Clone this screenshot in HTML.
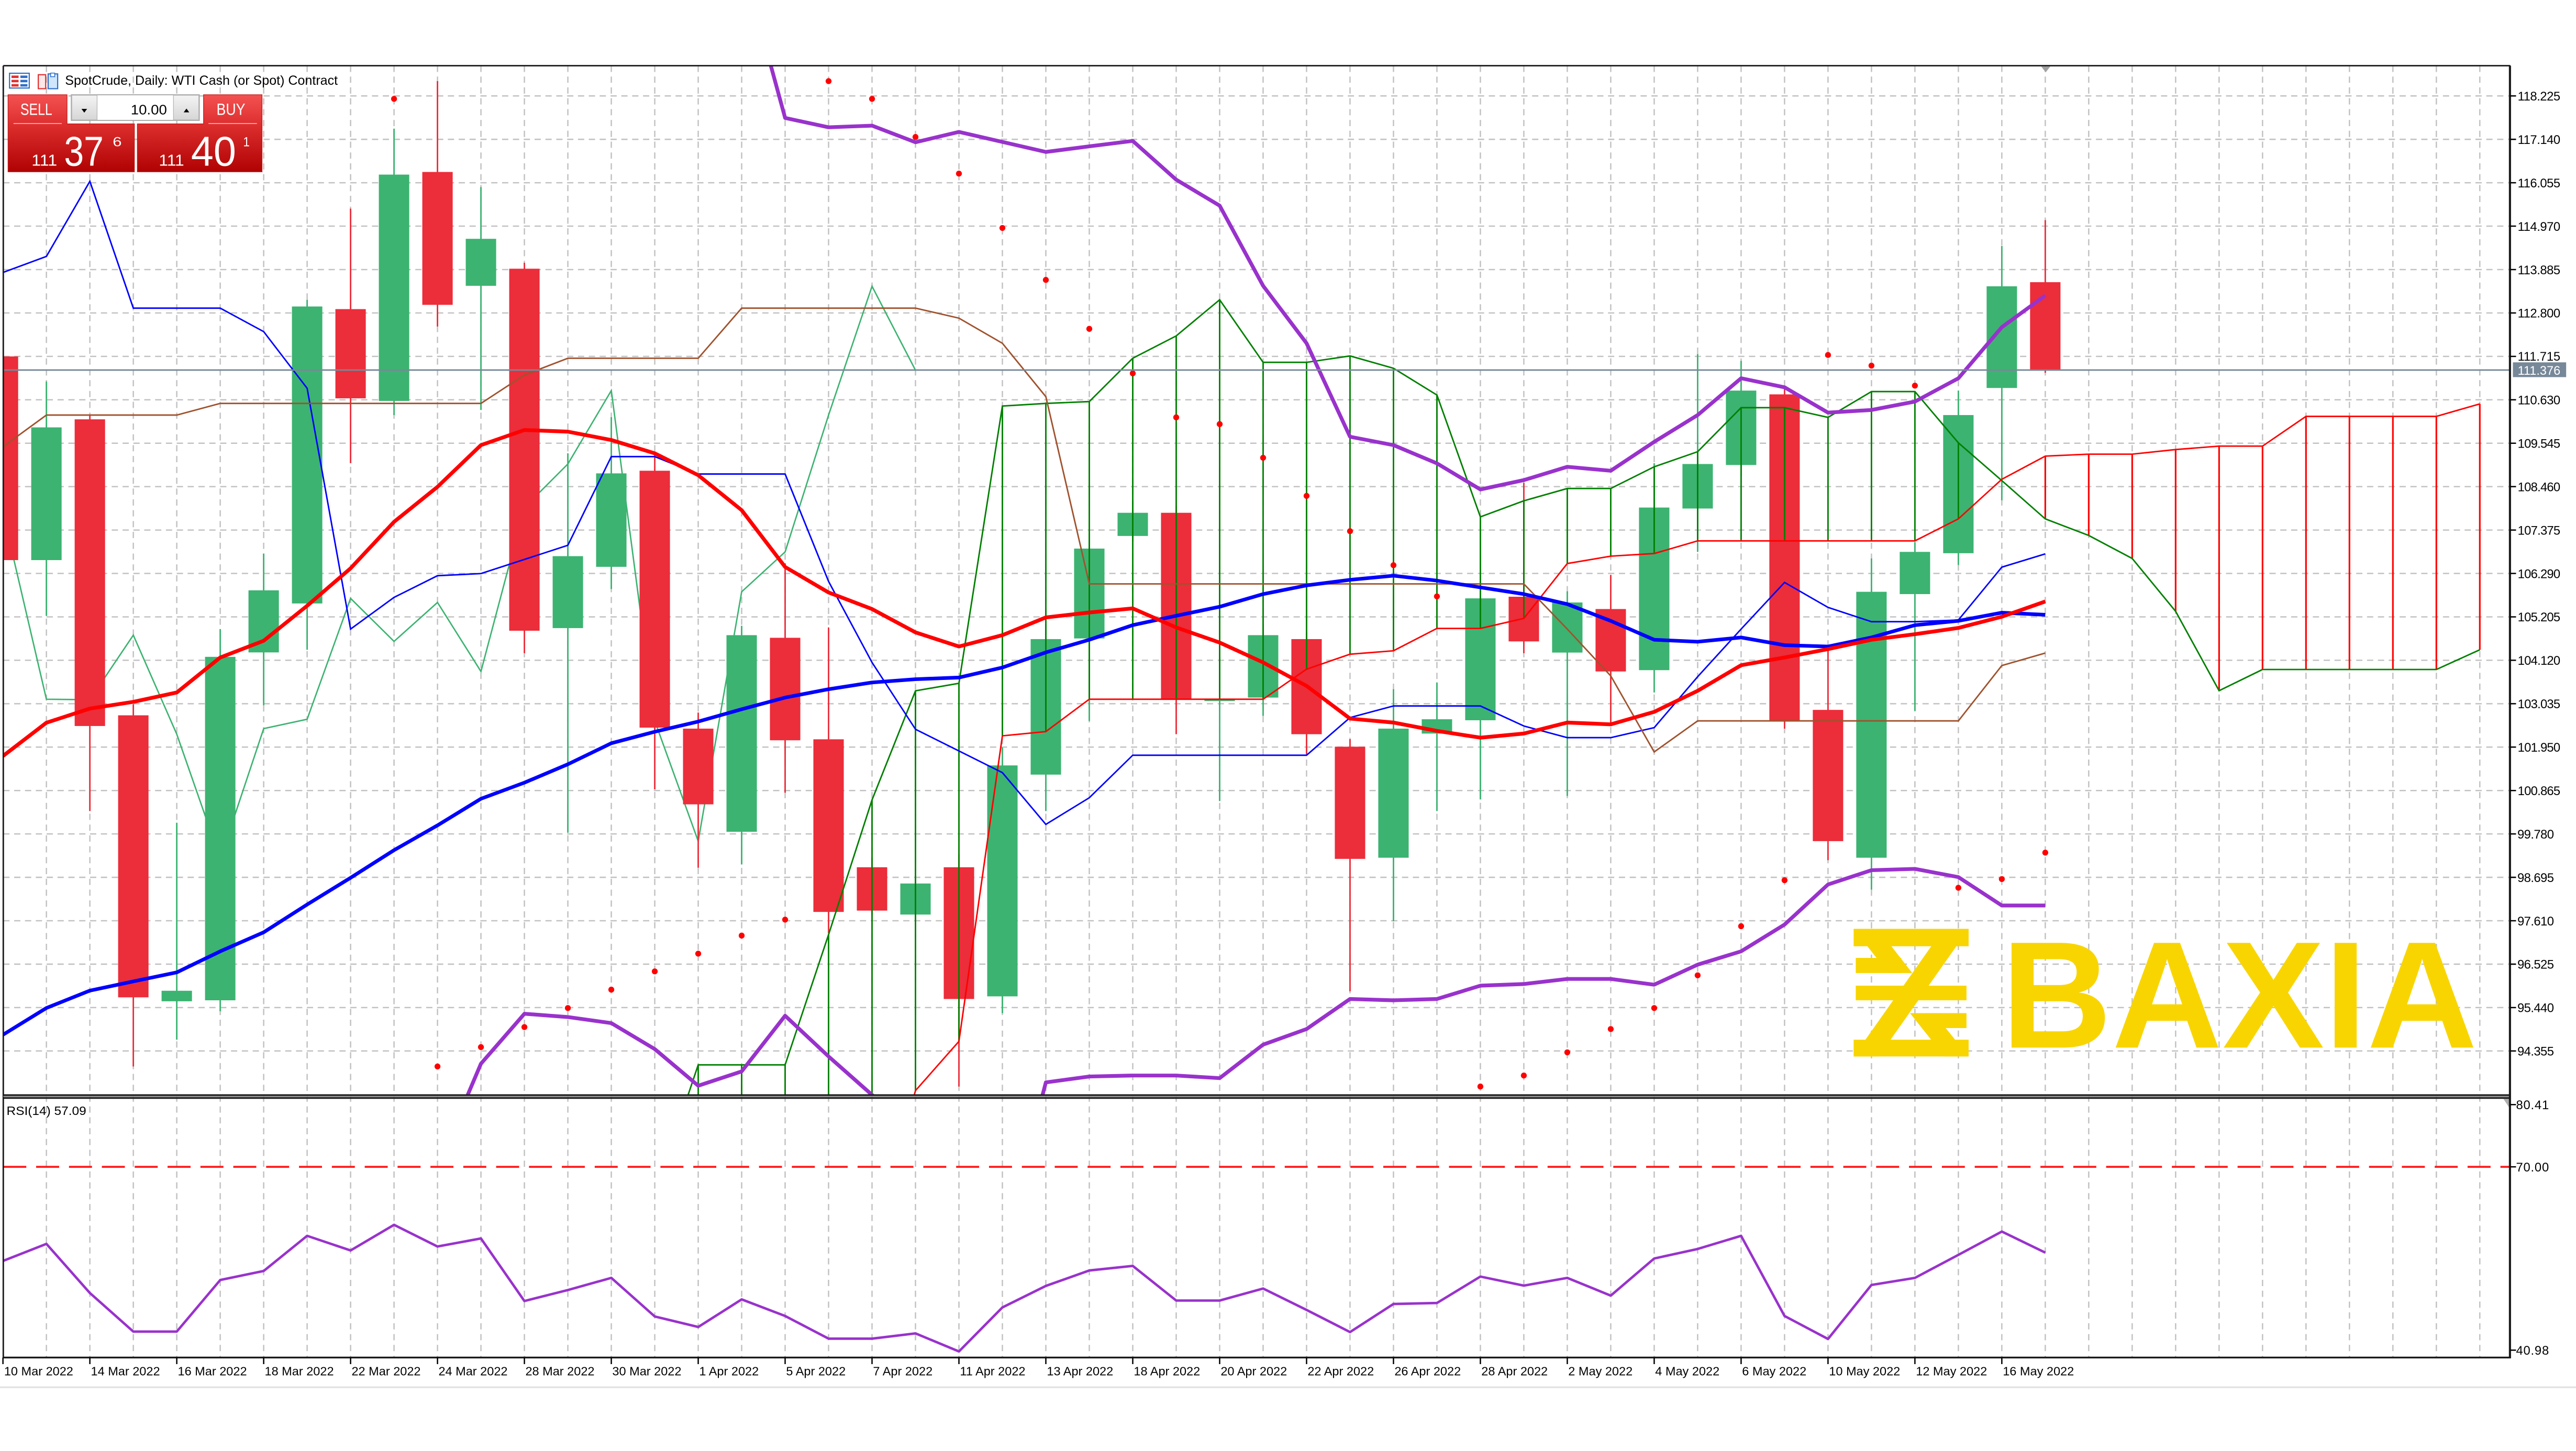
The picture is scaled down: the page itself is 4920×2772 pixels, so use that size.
<!DOCTYPE html>
<html>
<head>
<meta charset="utf-8">
<style>
html,body{margin:0;padding:0;background:#fff;overflow:hidden;}
svg{display:block;}
text{font-family:"Liberation Sans",Arial,sans-serif;}
</style>
</head>
<body>
<svg xmlns="http://www.w3.org/2000/svg" width="4920" height="2772" viewBox="0 0 1568 883.4" preserveAspectRatio="none">
<defs>
<clipPath id="cm"><rect x="2" y="40" width="1525.8" height="626.6"/></clipPath>
<clipPath id="cr"><rect x="2" y="668.8" width="1525.8" height="157.7"/></clipPath>
<linearGradient id="rg" x1="0" y1="0" x2="0" y2="1">
<stop offset="0" stop-color="#f45252"/><stop offset="0.38" stop-color="#de2f2f"/><stop offset="1" stop-color="#b00202"/>
</linearGradient>
<linearGradient id="bg" x1="0" y1="0" x2="0" y2="1">
<stop offset="0" stop-color="#f4f4f4"/><stop offset="1" stop-color="#d6d6d6"/>
</linearGradient>
</defs>
<rect x="0" y="0" width="1568" height="883.4" fill="#fff"/>

<!-- grid -->
<path d="M28.25 40V826.5M54.7 40V826.5M81.15 40V826.5M107.6 40V826.5M134.05 40V826.5M160.5 40V826.5M186.95 40V826.5M213.4 40V826.5M239.85 40V826.5M266.3 40V826.5M292.75 40V826.5M319.2 40V826.5M345.65 40V826.5M372.1 40V826.5M398.55 40V826.5M425 40V826.5M451.45 40V826.5M477.9 40V826.5M504.35 40V826.5M530.8 40V826.5M557.25 40V826.5M583.7 40V826.5M610.15 40V826.5M636.6 40V826.5M663.05 40V826.5M689.5 40V826.5M715.95 40V826.5M742.4 40V826.5M768.85 40V826.5M795.3 40V826.5M821.75 40V826.5M848.2 40V826.5M874.65 40V826.5M901.1 40V826.5M927.55 40V826.5M954 40V826.5M980.45 40V826.5M1006.9 40V826.5M1033.35 40V826.5M1059.8 40V826.5M1086.25 40V826.5M1112.7 40V826.5M1139.15 40V826.5M1165.6 40V826.5M1192.05 40V826.5M1218.5 40V826.5M1244.95 40V826.5M1271.4 40V826.5M1297.85 40V826.5M1324.3 40V826.5M1350.75 40V826.5M1377.2 40V826.5M1403.65 40V826.5M1430.1 40V826.5M1456.55 40V826.5M1483 40V826.5M1509.45 40V826.5" stroke="#c2c2c2" stroke-width="0.8" stroke-dasharray="3.8 2.8" fill="none"/>
<path d="M2 58.4H1527.5M2 84.83H1527.5M2 111.26H1527.5M2 137.69H1527.5M2 164.12H1527.5M2 190.55H1527.5M2 216.98H1527.5M2 243.41H1527.5M2 269.84H1527.5M2 296.27H1527.5M2 322.7H1527.5M2 349.13H1527.5M2 375.56H1527.5M2 401.99H1527.5M2 428.42H1527.5M2 454.85H1527.5M2 481.28H1527.5M2 507.71H1527.5M2 534.14H1527.5M2 560.57H1527.5M2 587H1527.5M2 613.43H1527.5M2 639.86H1527.5" stroke="#c2c2c2" stroke-width="0.8" stroke-dasharray="3.8 2.8" fill="none"/>

<g clip-path="url(#cm)">
<!-- logo -->
<g fill="#f8d500">
<rect x="1128.3" y="565.5" width="70" height="10.6"/>
<polygon points="1128.3,565.5 1143,565.5 1164,592.4 1149.5,592.4"/>
<rect x="1129.6" y="583.2" width="27.7" height="9.2"/>
<polygon points="1183,565.5 1198.3,565.5 1143.6,643.2 1128.3,643.2"/>
<rect x="1129.6" y="600.1" width="67.4" height="8.9"/>
<rect x="1171.9" y="616.8" width="25.1" height="9.1"/>
<polygon points="1162.6,616.8 1177,616.8 1198.3,643.2 1183.6,643.2"/>
<rect x="1128.3" y="633" width="70" height="10.2"/>
<text x="1218.2" y="637.8" font-size="92.7" font-weight="bold" textLength="289.8" lengthAdjust="spacingAndGlyphs">BAXIA</text>
</g>

<!-- chikou -->
<polyline fill="none" stroke="#3cb371" stroke-width="0.85" points="1.8,312.2 28.25,425.7 54.7,426 81.15,386.7 107.6,447 134.05,522.9 160.5,443.6 186.95,437.9 213.4,364.3 239.85,390.5 266.3,366.8 292.75,408.8 319.2,309 345.65,282.5 372.1,237.8 398.55,438.9 425,512.1 451.45,360.3 477.9,336 504.35,252.7 530.8,174.3 557.25,225.4"/>

<!-- candles -->
<path fill="none" stroke="#3cb371" stroke-width="0.9" d="M28.25 232.3V375M107.6 500.9V633M134.05 383V615.7M160.5 337V429.4M186.95 182.5V395.6M239.85 78.3V252.7M292.75 113.9V249.6M345.65 276V507M372.1 254V358.6M451.45 381V526.3M557.25 533V560M610.15 455V616.8M636.6 380V493.8M663.05 325V438.9M689.5 305V330M742.4 400V487.7M768.85 380V435.9M848.2 419.6V560.9M874.65 415.5V493.8M901.1 355V486.7M954 360V484.6M1006.9 282V421.6M1033.35 215.5V336M1059.8 219.7V290M1139.15 340V541.6M1165.6 330V432.8M1192.05 237.8V344M1218.5 149.7V304.6"/>
<path fill="none" stroke="#ec2d3a" stroke-width="0.9" d="M1.8 212V345M54.7 252.7V493.8M81.15 428.7V649.3M213.4 127V282M266.3 49.4V198.8M319.2 160V397.7M398.55 275V480.6M425 433.8V528.3M477.9 343V482.6M504.35 382V568M530.8 522V557M583.7 520V661.5M715.95 308V447M795.3 385V459.2M821.75 450V603.5M927.55 294V397.7M980.45 350V440M1086.25 235V443.6M1112.7 394.2V523.7M1244.95 134V227"/>
<g fill="#3cb371">
<rect x="19" y="260.2" width="18.5" height="80.8"/>
<rect x="98.35" y="603.2" width="18.5" height="6.4"/>
<rect x="124.8" y="399.9" width="18.5" height="209.1"/>
<rect x="151.25" y="359.4" width="18.5" height="37.8"/>
<rect x="177.7" y="186.6" width="18.5" height="180.8"/>
<rect x="230.6" y="106.3" width="18.5" height="137.8"/>
<rect x="283.5" y="145.4" width="18.5" height="28.6"/>
<rect x="336.4" y="338.6" width="18.5" height="43.8"/>
<rect x="362.85" y="288.2" width="18.5" height="56.9"/>
<rect x="442.2" y="386.7" width="18.5" height="119.7"/>
<rect x="548" y="537.9" width="18.5" height="18.9"/>
<rect x="600.9" y="466" width="18.5" height="140.6"/>
<rect x="627.35" y="389.1" width="18.5" height="82.5"/>
<rect x="653.8" y="334" width="18.5" height="54.7"/>
<rect x="680.25" y="312.2" width="18.5" height="14.1"/>
<rect x="733.15" y="425.5" width="18.5" height="1.3"/>
<rect x="759.6" y="386.7" width="18.5" height="38"/>
<rect x="838.95" y="443.6" width="18.5" height="78.6"/>
<rect x="865.4" y="437.9" width="18.5" height="8.7"/>
<rect x="891.85" y="364.3" width="18.5" height="74.2"/>
<rect x="944.75" y="366.8" width="18.5" height="30.5"/>
<rect x="997.65" y="309" width="18.5" height="99"/>
<rect x="1024.1" y="282.5" width="18.5" height="27.1"/>
<rect x="1050.55" y="237.8" width="18.5" height="45.3"/>
<rect x="1129.9" y="360.3" width="18.5" height="161.9"/>
<rect x="1156.35" y="336" width="18.5" height="25.7"/>
<rect x="1182.8" y="252.7" width="18.5" height="84.1"/>
<rect x="1209.25" y="174.3" width="18.5" height="61.9"/>
</g>
<g fill="#ec2d3a">
<rect x="-7.45" y="217" width="18.5" height="124"/>
<rect x="45.45" y="255.3" width="18.5" height="186.7"/>
<rect x="71.9" y="435.5" width="18.5" height="171.7"/>
<rect x="204.15" y="188.2" width="18.5" height="54.3"/>
<rect x="257.05" y="104.7" width="18.5" height="80.9"/>
<rect x="309.95" y="163.6" width="18.5" height="220.4"/>
<rect x="389.3" y="286.6" width="18.5" height="156.4"/>
<rect x="415.75" y="443.6" width="18.5" height="46.1"/>
<rect x="468.65" y="388.3" width="18.5" height="62.4"/>
<rect x="495.1" y="450.1" width="18.5" height="105.1"/>
<rect x="521.55" y="528" width="18.5" height="26.4"/>
<rect x="574.45" y="528" width="18.5" height="80.2"/>
<rect x="706.7" y="312.2" width="18.5" height="113.5"/>
<rect x="786.05" y="389.1" width="18.5" height="57.9"/>
<rect x="812.5" y="454.6" width="18.5" height="68.3"/>
<rect x="918.3" y="363.3" width="18.5" height="27.2"/>
<rect x="971.2" y="370.8" width="18.5" height="38"/>
<rect x="1077" y="240.1" width="18.5" height="198.8"/>
<rect x="1103.45" y="432.2" width="18.5" height="79.9"/>
<rect x="1235.7" y="171.8" width="18.5" height="53.6"/>
</g>

<!-- ichimoku cloud -->
<path fill="none" stroke="#008000" stroke-width="0.9" d="M425 648.3V670M451.45 648.3V670M477.9 648.3V670M504.35 569V670M530.8 487V670M557.25 420.6V664M583.7 416V634M610.15 247.2V448M636.6 245.6V445.4M663.05 244.5V425.7M689.5 218.1V425.7M715.95 204.5V425.7M742.4 182.5V425.7M768.85 220.6V425.7M795.3 220.6V407.4M821.75 216.7V398.3M848.2 224.2V396.2M874.65 240.5V382.6M901.1 314.7V382.6M927.55 304.9V376.5M954 297.4V343.1M980.45 297.4V338.6M1006.9 284.2V337M1033.35 275V329.3M1059.8 248.2V329.3M1086.25 248.2V329.3M1112.7 254.1V329.3M1139.15 238.4V329.3M1165.6 238.4V329.3M1192.05 269.6V315.9"/>
<path fill="none" stroke="#ff0000" stroke-width="1" d="M1244.95 277.7V315.9M1271.4 276.5V326M1297.85 276.5V340M1324.3 273.7V372.2M1350.75 271.6V420.5M1377.2 271.6V407.6M1403.65 253.5V407.6M1430.1 253.5V407.6M1456.55 253.5V407.6M1483 253.5V407.6M1509.45 245.9V395.6"/>
<polyline fill="none" stroke="#008000" stroke-width="0.9" points="398.55,727 425,648.3 477.9,648.3 504.35,569 530.8,487 557.25,420.6 583.7,416 610.15,247.2 636.6,245.6 663.05,244.5 689.5,218.1 715.95,204.5 742.4,182.5 768.85,220.6 795.3,220.6 821.75,216.7 848.2,224.2 874.65,240.5 901.1,314.7 927.55,304.9 954,297.4 980.45,297.4 1006.9,284.2 1033.35,275 1059.8,248.2 1086.25,248.2 1112.7,254.1 1139.15,238.4 1165.6,238.4 1192.05,269.6 1218.5,292.6 1244.95,315.9 1271.4,326 1297.85,340 1324.3,372.2 1350.75,420.5 1377.2,407.6 1483,407.6 1509.45,395.6"/>
<polyline fill="none" stroke="#ff0000" stroke-width="0.9" points="530.8,760 557.25,664 583.7,634 610.15,448 636.6,445.4 663.05,425.7 768.85,425.7 795.3,407.4 821.75,398.3 848.2,396.2 874.65,382.6 901.1,382.6 927.55,376.5 954,343.1 980.45,338.6 1006.9,337 1033.35,329.3 1165.6,329.3 1192.05,315.9 1218.5,291.8 1244.95,277.7 1271.4,276.5 1297.85,276.5 1324.3,273.7 1350.75,271.6 1377.2,271.6 1403.65,253.5 1483,253.5 1509.45,245.9"/>

<!-- tenkan (blue thin) -->
<polyline fill="none" stroke="#0000ff" stroke-width="0.9" points="1.8,165.9 28.25,156.1 54.7,110.4 81.15,187.6 107.6,187.6 134.05,187.6 160.5,201.9 186.95,236.4 213.4,383 239.85,363.7 266.3,350.5 292.75,349.2 319.2,340.6 345.65,332 372.1,278 398.55,278 425,288.6 451.45,288.6 477.9,288.6 504.35,354 530.8,403.3 557.25,444 583.7,457.2 610.15,470.4 636.6,501.9 663.05,485.7 689.5,459.8 715.95,459.8 742.4,459.8 768.85,459.8 795.3,459.8 821.75,436.9 848.2,429.8 874.65,429.8 901.1,429.8 927.55,442 954,449.1 980.45,449.1 1006.9,443 1033.35,412 1059.8,383 1086.25,354.6 1112.7,369.8 1139.15,378.5 1165.6,378.5 1192.05,377.5 1218.5,345.3 1244.95,337.2"/>
<!-- kijun (brown) -->
<polyline fill="none" stroke="#a0522d" stroke-width="0.9" points="1.8,272 28.25,252.7 107.6,252.7 134.05,245.6 292.75,245.6 319.2,228.3 345.65,218.1 425,218.1 451.45,187.6 557.25,187.6 583.7,193.7 610.15,209 636.6,241.5 663.05,355.5 927.55,355.5 954,383 980.45,411.5 1006.9,457.8 1033.35,438.9 1192.05,438.9 1218.5,405.2 1244.95,397.6"/>

<!-- bands (purple) -->
<polyline fill="none" stroke="#9932cc" stroke-width="2.3" stroke-linejoin="round" points="451.45,-25 477.9,71.8 504.35,77.5 530.8,76.5 557.25,86.6 583.7,80.3 610.15,86.4 636.6,92.5 663.05,89.1 689.5,85.8 715.95,109.4 742.4,125.2 768.85,174 795.3,209 821.75,265.9 848.2,271 874.65,282.1 901.1,298 927.55,292.3 954,284.2 980.45,286.6 1006.9,269 1033.35,252.7 1059.8,230.3 1086.25,235.8 1112.7,251.2 1139.15,249.6 1165.6,244.5 1192.05,230.3 1218.5,199.2 1244.95,179.9"/>
<polyline fill="none" stroke="#9932cc" stroke-width="2.3" stroke-linejoin="round" points="266.3,710 292.75,647.6 319.2,617.2 345.65,619.2 372.1,622.9 398.55,638.7 425,661 451.45,652.3 477.9,618.4 504.35,643.2 530.8,666.6 557.25,690 583.7,720 610.15,760 636.6,659 663.05,655.4 689.5,654.8 715.95,654.8 742.4,656.4 768.85,636 795.3,626.5 821.75,608.2 848.2,609 874.65,608.2 901.1,600.1 927.55,599.1 954,596 980.45,596 1006.9,599.5 1033.35,587.3 1059.8,579.2 1086.25,562.9 1112.7,538.5 1139.15,529.8 1165.6,529 1192.05,534 1218.5,551.3 1244.95,551.3"/>

<!-- moving averages -->
<polyline fill="none" stroke="#0000ff" stroke-width="2.2" stroke-linejoin="round" points="1.8,630 28.25,613.7 54.7,603.1 81.15,597.5 107.6,592 134.05,579.2 160.5,567.6 186.95,550.7 213.4,534.4 239.85,517.6 266.3,502.5 292.75,486.3 319.2,476.5 345.65,465.3 372.1,452.5 398.55,445.5 425,439.3 451.45,431.8 477.9,424.7 504.35,419.6 530.8,415.5 557.25,413.5 583.7,412.5 610.15,406.4 636.6,397.2 663.05,389.5 689.5,380.6 715.95,374.9 742.4,369.4 768.85,361.7 795.3,356.4 821.75,353 848.2,350.5 874.65,353.5 901.1,357.6 927.55,361.7 954,367.8 980.45,378 1006.9,389.5 1033.35,390.7 1059.8,388.1 1086.25,392.8 1112.7,393.6 1139.15,388.1 1165.6,380.6 1192.05,378 1218.5,373 1244.95,374.3"/>
<polyline fill="none" stroke="#ff0000" stroke-width="2.3" stroke-linejoin="round" points="1.8,460.3 28.25,440 54.7,431.4 81.15,427.3 107.6,421.6 134.05,400.3 160.5,390.1 186.95,368.8 213.4,346 239.85,317.7 266.3,296.4 292.75,271 319.2,261.8 345.65,262.8 372.1,267.9 398.55,276 425,289.3 451.45,310.6 477.9,345.2 504.35,360.7 530.8,370.8 557.25,385 583.7,393.6 610.15,386.7 636.6,375.9 663.05,372.9 689.5,370.4 715.95,382 742.4,391.2 768.85,403.3 795.3,417.6 821.75,437.5 848.2,439.9 874.65,445 901.1,449.1 927.55,446.6 954,439.9 980.45,441 1006.9,433.4 1033.35,420.6 1059.8,405 1086.25,400.3 1112.7,395.2 1139.15,389.5 1165.6,386.1 1192.05,382.3 1218.5,375.5 1244.95,366.2"/>

<!-- parabolic SAR -->
<g fill="#ff0000">
<circle cx="239.85" cy="60.2" r="1.8"/><circle cx="266.3" cy="649.3" r="1.8"/><circle cx="292.75" cy="637.5" r="1.8"/><circle cx="319.2" cy="625.3" r="1.8"/><circle cx="345.65" cy="613.7" r="1.8"/><circle cx="372.1" cy="602.5" r="1.8"/><circle cx="398.55" cy="591.4" r="1.8"/><circle cx="425" cy="580.6" r="1.8"/><circle cx="451.45" cy="569.6" r="1.8"/><circle cx="477.9" cy="559.9" r="1.8"/>
<circle cx="504.35" cy="49.4" r="1.8"/><circle cx="530.8" cy="60.2" r="1.8"/><circle cx="557.25" cy="83.4" r="1.8"/><circle cx="583.7" cy="105.7" r="1.8"/><circle cx="610.15" cy="138.8" r="1.8"/><circle cx="636.6" cy="170.4" r="1.8"/><circle cx="663.05" cy="200.2" r="1.8"/><circle cx="689.5" cy="227.3" r="1.8"/><circle cx="715.95" cy="254.1" r="1.8"/><circle cx="742.4" cy="258.2" r="1.8"/><circle cx="768.85" cy="278.7" r="1.8"/><circle cx="795.3" cy="301.9" r="1.8"/><circle cx="821.75" cy="323.4" r="1.8"/><circle cx="848.2" cy="344.1" r="1.8"/><circle cx="874.65" cy="363.1" r="1.8"/>
<circle cx="901.1" cy="661.5" r="1.8"/><circle cx="927.55" cy="654.8" r="1.8"/><circle cx="954" cy="640.7" r="1.8"/><circle cx="980.45" cy="626.5" r="1.8"/><circle cx="1006.9" cy="613.7" r="1.8"/><circle cx="1033.35" cy="593.8" r="1.8"/><circle cx="1059.8" cy="563.9" r="1.8"/><circle cx="1086.25" cy="535.9" r="1.8"/>
<circle cx="1112.7" cy="216.1" r="1.8"/><circle cx="1139.15" cy="222.6" r="1.8"/><circle cx="1165.6" cy="234.8" r="1.8"/>
<circle cx="1192.05" cy="540.5" r="1.8"/><circle cx="1218.5" cy="535.2" r="1.8"/><circle cx="1244.95" cy="519.1" r="1.8"/>
</g>

<!-- price line -->
<line x1="2" y1="225.3" x2="1528" y2="225.3" stroke="#778899" stroke-width="0.9"/>
<polygon points="1242.5,40.5 1248,40.5 1245.2,44" fill="#a0a0a0"/>
</g>

<!-- RSI panel -->
<g clip-path="url(#cr)">
<line x1="2" y1="710.4" x2="1528" y2="710.4" stroke="#ff1a1a" stroke-width="1.2" stroke-dasharray="14 6"/>
<polyline fill="none" stroke="#9932cc" stroke-width="1.5" stroke-linejoin="round" points="1.8,767.7 28.25,757.3 54.7,787.2 81.15,810.7 107.6,810.7 134.05,779.3 160.5,773.8 186.95,752.4 213.4,761.3 239.85,745.7 266.3,758.9 292.75,754 319.2,792.1 345.65,785.4 372.1,778 398.55,801.5 425,807.9 451.45,791.1 477.9,801.2 504.35,815 530.8,815 557.25,811.8 583.7,822.8 610.15,796 636.6,782.9 663.05,773.5 689.5,770.7 715.95,791.8 742.4,791.8 768.85,784.5 795.3,797.5 821.75,811 848.2,793.9 874.65,793.3 901.1,777.2 927.55,782.7 954,778 980.45,788.8 1006.9,766.2 1033.35,760.4 1059.8,752.4 1086.25,801.2 1112.7,815.2 1139.15,782.3 1165.6,778 1192.05,764 1218.5,749.8 1244.95,762.6"/>
<polygon points="1523.8,669 1527.8,669 1527.8,675" fill="#b0b0b0"/>
</g>
<text x="4" y="678.8" font-size="7.5" textLength="48.5" lengthAdjust="spacingAndGlyphs" fill="#000">RSI(14) 57.09</text>

<!-- frame -->
<g stroke="#1a1a1a" fill="none">
<line x1="2" y1="40" x2="1528" y2="40" stroke-width="0.9"/>
<line x1="2" y1="40" x2="2" y2="826.5" stroke-width="0.9"/>
<line x1="2" y1="666.7" x2="1528" y2="666.7" stroke-width="1"/>
<line x1="2" y1="667.55" x2="1528" y2="667.55" stroke="#8a8a8a" stroke-width="0.7"/>
<line x1="2" y1="668.5" x2="1528" y2="668.5" stroke-width="1"/>
<line x1="2" y1="826.5" x2="1528" y2="826.5" stroke-width="1.1"/>
<line x1="1527.8" y1="40" x2="1527.8" y2="827" stroke-width="1.3"/>
</g>
<line x1="0" y1="844.6" x2="1568" y2="844.6" stroke="#e2e2e2" stroke-width="1"/>

<!-- price axis -->
<path d="M1528 58.4h3.5M1528 84.83h3.5M1528 111.26h3.5M1528 137.69h3.5M1528 164.12h3.5M1528 190.55h3.5M1528 216.98h3.5M1528 243.41h3.5M1528 269.84h3.5M1528 296.27h3.5M1528 322.7h3.5M1528 349.13h3.5M1528 375.56h3.5M1528 401.99h3.5M1528 428.42h3.5M1528 454.85h3.5M1528 481.28h3.5M1528 507.71h3.5M1528 534.14h3.5M1528 560.57h3.5M1528 587h3.5M1528 613.43h3.5M1528 639.86h3.5M1528 672.5h3.5M1528 710.4h3.5M1528 822h3.5" stroke="#000" stroke-width="0.8"/>
<g font-size="7.6" fill="#000" lengthAdjust="spacingAndGlyphs">
<text x="1532.5" y="61.2" textLength="26">118.225</text>
<text x="1532.5" y="87.63" textLength="26">117.140</text>
<text x="1532.5" y="114.06" textLength="26">116.055</text>
<text x="1532.5" y="140.49" textLength="26">114.970</text>
<text x="1532.5" y="166.92" textLength="26">113.885</text>
<text x="1532.5" y="193.35" textLength="26">112.800</text>
<text x="1532.5" y="219.6" textLength="26">111.715</text>
<text x="1532.5" y="246.21" textLength="26">110.630</text>
<text x="1532.5" y="272.64" textLength="26">109.545</text>
<text x="1532.5" y="299.07" textLength="26">108.460</text>
<text x="1532.5" y="325.5" textLength="26">107.375</text>
<text x="1532.5" y="351.93" textLength="26">106.290</text>
<text x="1532.5" y="378.36" textLength="26">105.205</text>
<text x="1532.5" y="404.79" textLength="26">104.120</text>
<text x="1532.5" y="431.22" textLength="26">103.035</text>
<text x="1532.5" y="457.65" textLength="26">101.950</text>
<text x="1532.5" y="484.08" textLength="26">100.865</text>
<text x="1532.3" y="510.51" textLength="22.3">99.780</text>
<text x="1532.3" y="536.94" textLength="22.3">98.695</text>
<text x="1532.3" y="563.37" textLength="22.3">97.610</text>
<text x="1532.3" y="589.8" textLength="22.3">96.525</text>
<text x="1532.3" y="616.23" textLength="22.3">95.440</text>
<text x="1532.3" y="642.66" textLength="22.3">94.355</text>
<text x="1531.5" y="675.3" textLength="20">80.41</text>
<text x="1531.5" y="713.2" textLength="20">70.00</text>
<text x="1531.5" y="824.8" textLength="20">40.98</text>
</g>
<rect x="1529.6" y="220.6" width="32.4" height="9" fill="#778899"/>
<text x="1532.5" y="228.2" font-size="7.6" fill="#fff" textLength="26" lengthAdjust="spacingAndGlyphs">111.376</text>

<!-- time axis -->
<path d="M1.8 826.5V830.5M54.7 826.5V830.5M107.6 826.5V830.5M160.5 826.5V830.5M213.4 826.5V830.5M266.3 826.5V830.5M319.2 826.5V830.5M372.1 826.5V830.5M425 826.5V830.5M477.9 826.5V830.5M530.8 826.5V830.5M583.7 826.5V830.5M636.6 826.5V830.5M689.5 826.5V830.5M742.4 826.5V830.5M795.3 826.5V830.5M848.2 826.5V830.5M901.1 826.5V830.5M954 826.5V830.5M1006.9 826.5V830.5M1059.8 826.5V830.5M1112.7 826.5V830.5M1165.6 826.5V830.5M1218.5 826.5V830.5" stroke="#000" stroke-width="0.8"/>
<g font-size="7.5" fill="#000">
<text x="2.5" y="837.4">10 Mar 2022</text>
<text x="55.3" y="837.4">14 Mar 2022</text>
<text x="108.2" y="837.4">16 Mar 2022</text>
<text x="161.1" y="837.4">18 Mar 2022</text>
<text x="214" y="837.4">22 Mar 2022</text>
<text x="266.9" y="837.4">24 Mar 2022</text>
<text x="319.8" y="837.4">28 Mar 2022</text>
<text x="372.7" y="837.4">30 Mar 2022</text>
<text x="425.6" y="837.4">1 Apr 2022</text>
<text x="478.5" y="837.4">5 Apr 2022</text>
<text x="531.4" y="837.4">7 Apr 2022</text>
<text x="584.3" y="837.4">11 Apr 2022</text>
<text x="637.2" y="837.4">13 Apr 2022</text>
<text x="690.1" y="837.4">18 Apr 2022</text>
<text x="743" y="837.4">20 Apr 2022</text>
<text x="795.9" y="837.4">22 Apr 2022</text>
<text x="848.8" y="837.4">26 Apr 2022</text>
<text x="901.7" y="837.4">28 Apr 2022</text>
<text x="954.6" y="837.4">2 May 2022</text>
<text x="1007.5" y="837.4">4 May 2022</text>
<text x="1060.4" y="837.4">6 May 2022</text>
<text x="1113.3" y="837.4">10 May 2022</text>
<text x="1166.2" y="837.4">12 May 2022</text>
<text x="1219.1" y="837.4">16 May 2022</text>
</g>

<!-- header -->
<g>
<rect x="5.8" y="44.6" width="12" height="9" fill="#fff" stroke="#2f6fc8" stroke-width="0.7"/>
<rect x="7" y="46" width="4.3" height="1.5" fill="#e03030"/>
<rect x="7" y="48.6" width="4.3" height="1.5" fill="#e03030"/>
<rect x="7" y="51.2" width="4.3" height="1.5" fill="#e03030"/>
<rect x="12.4" y="46" width="4.3" height="1.5" fill="#2f6fc8"/>
<rect x="12.4" y="48.6" width="4.3" height="1.5" fill="#2f6fc8"/>
<rect x="12.4" y="51.2" width="4.3" height="1.5" fill="#2f6fc8"/>
<path d="M23.3 45.5h4.5v8.5h-4.5z" fill="#fde8e8" stroke="#e03030" stroke-width="0.7"/>
<path d="M29.3 45h5.8v9h-5.8z" fill="#cfe6fb" stroke="#2f6fc8" stroke-width="0.7"/>
<rect x="30.8" y="44.5" width="2.5" height="2.2" fill="#fff" stroke="#2f6fc8" stroke-width="0.5"/>
<text x="39.6" y="51.6" font-size="8" fill="#000" textLength="166" lengthAdjust="spacingAndGlyphs">SpotCrude, Daily:  WTI Cash (or Spot) Contract</text>
</g>

<!-- one-click trading panel -->
<g>
<path d="M4.9 57.7H40.8V75.4H81.8V104.6H4.9Z" fill="url(#rg)" stroke="#c01818" stroke-width="0.4"/>
<path d="M83.6 75.4H123.9V57.7H159.5V104.6H83.6Z" fill="url(#rg)" stroke="#c01818" stroke-width="0.4"/>
<line x1="8.2" y1="75.2" x2="37.6" y2="75.2" stroke="#f6a6a6" stroke-width="0.6"/>
<line x1="126.9" y1="75.2" x2="156.4" y2="75.2" stroke="#f6a6a6" stroke-width="0.6"/>
<rect x="43.4" y="57.7" width="77.9" height="15.6" fill="#fff" stroke="#a8a8a8" stroke-width="0.6"/>
<rect x="43.7" y="58" width="15.4" height="15" fill="url(#bg)" stroke="#b4b4b4" stroke-width="0.4"/>
<rect x="105.6" y="58" width="15.4" height="15" fill="url(#bg)" stroke="#b4b4b4" stroke-width="0.4"/>
<polygon points="49.6,66.3 53,66.3 51.3,68.6" fill="#000"/>
<polygon points="111.8,68.4 115.2,68.4 113.5,66.1" fill="#000"/>
<text x="79.6" y="69.6" font-size="8.3" fill="#000" textLength="22" lengthAdjust="spacingAndGlyphs">10.00</text>
<g fill="#fff">
<text x="12.4" y="70" font-size="10" textLength="19.4" lengthAdjust="spacingAndGlyphs">SELL</text>
<text x="131.8" y="70" font-size="10" textLength="17.5" lengthAdjust="spacingAndGlyphs">BUY</text>
<text x="19.2" y="100.8" font-size="9.8" textLength="15.6" lengthAdjust="spacingAndGlyphs">111</text>
<text x="39" y="100.8" font-size="25.4" textLength="24.1" lengthAdjust="spacingAndGlyphs">37</text>
<text x="68.6" y="89" font-size="8.1" textLength="5.5" lengthAdjust="spacingAndGlyphs">6</text>
<text x="96.7" y="100.8" font-size="9.8" textLength="15.4" lengthAdjust="spacingAndGlyphs">111</text>
<text x="116.3" y="100.8" font-size="25.4" textLength="27.4" lengthAdjust="spacingAndGlyphs">40</text>
<text x="148" y="89" font-size="8.1" textLength="4" lengthAdjust="spacingAndGlyphs">1</text>
</g>
</g>
</svg>
</body>
</html>
